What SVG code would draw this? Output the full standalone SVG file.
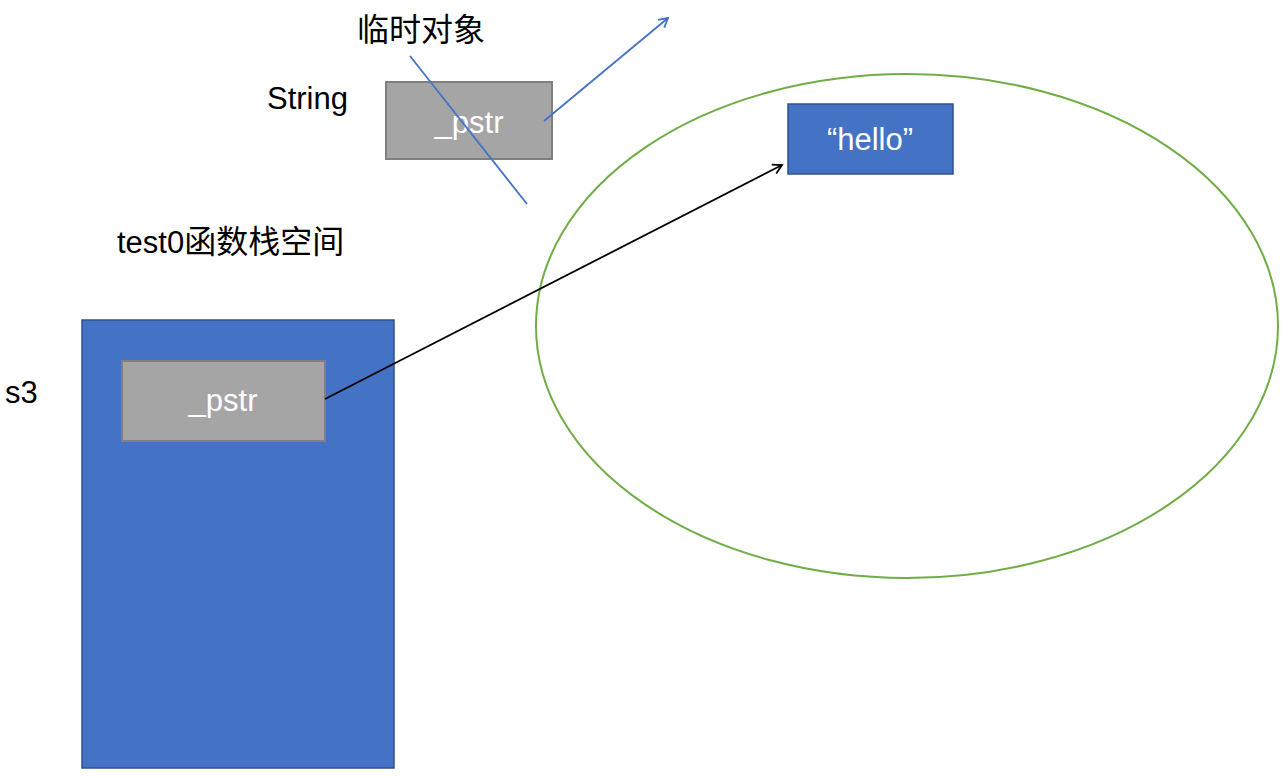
<svg xmlns="http://www.w3.org/2000/svg" width="1288" height="778" viewBox="0 0 1288 778">
<style>
.lbl{font-family:"Liberation Sans","Noto Sans CJK SC",sans-serif;font-size:31px;fill:#000}
.cjk{font-size:32px}
.wt{font-family:"Liberation Sans",sans-serif;font-size:31px;fill:#fff;text-anchor:middle}
.gray{fill:#a5a5a5;stroke:#7f7f7f;stroke-width:2}
.blue{fill:#4472c4;stroke:#2f528f;stroke-width:1.5}
</style>
<defs>
<marker id="ab" markerWidth="12" markerHeight="12" refX="10" refY="6" orient="auto" markerUnits="userSpaceOnUse"><path d="M1,1 L10,6 L1,11" fill="none" stroke="#4472c4" stroke-width="1.8"/></marker>
<marker id="ak" markerWidth="12" markerHeight="12" refX="10" refY="6" orient="auto" markerUnits="userSpaceOnUse"><path d="M1,1 L10,6 L1,11" fill="none" stroke="#000" stroke-width="1.8"/></marker>
</defs>
<rect width="1288" height="778" fill="#fff"/>
<g id="heap"><ellipse cx="907" cy="326" rx="371" ry="252" fill="none" stroke="#70ad47" stroke-width="2"/></g>
<g id="stack"><rect class="blue" x="82" y="320" width="312" height="448"/></g>
<g id="s3pstr"><rect class="gray" x="122" y="361" width="203" height="80"/><text class="wt" x="223" y="411">_pstr</text></g>
<g id="tmp"><rect class="gray" x="386" y="82" width="166" height="77"/><text class="wt" x="469" y="133">_pstr</text></g>
<g id="hello"><rect class="blue" x="788" y="104" width="165" height="70"/><text class="wt" x="870" y="150">“hello”</text></g>
<g id="labels">
<text class="lbl cjk" x="357" y="41">临时对象</text>
<text class="lbl" x="267" y="109">String</text>
<text class="lbl" x="117" y="253">test0<tspan class="cjk">函数栈空间</tspan></text>
<text class="lbl" x="5" y="403">s3</text>
</g>
<g id="connectors">
<line x1="544" y1="121" x2="668" y2="18" stroke="#4472c4" stroke-width="1.8" marker-end="url(#ab)"/>
<line x1="410" y1="56" x2="527" y2="204" stroke="#4472c4" stroke-width="1.8"/>
<line x1="325" y1="399" x2="782" y2="165" stroke="#000" stroke-width="1.8" marker-end="url(#ak)"/>
</g>
</svg>
